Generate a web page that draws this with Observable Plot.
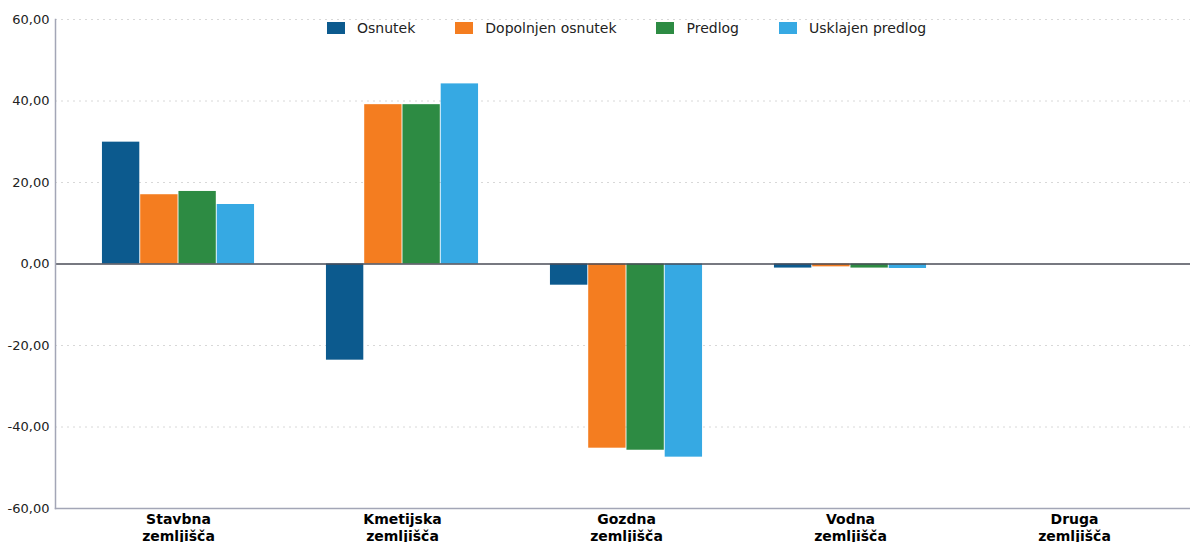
<!DOCTYPE html>
<html><head><meta charset="utf-8">
<script src="https://cdn.jsdelivr.net/npm/d3@7"></script>
<script src="https://cdn.jsdelivr.net/npm/@observablehq/plot@0.6"></script>
<style>
body{margin:0;background:#fff;font-family:"DejaVu Sans",sans-serif;}
#wrap{position:relative;width:1190px;height:542px;overflow:hidden;}
#legend{position:absolute;top:20px;left:327px;display:flex;align-items:center;font-size:14px;color:#222;white-space:nowrap;}
.item{display:flex;align-items:center;margin-right:40px;}
.sw{width:18px;height:12px;margin-right:12px;}
</style></head><body><div id="wrap"><div id="legend"></div></div>
<script>
const categories = ["Stavbna zemljišča", "Kmetijska zemljišča", "Gozdna zemljišča", "Vodna zemljišča", "Druga zemljišča"];
const series = ["Osnutek", "Dopolnjen osnutek", "Predlog", "Usklajen predlog"];
const osnutek = [29.9, -23.6, -5.2, -1.0, 0];
const dopolnjenOsnutek = [17.0, 39.1, -45.2, -0.7, 0];
const predlog = [17.8, 39.1, -45.7, -1.0, 0];
const usklajenPredlog = [14.6, 44.2, -47.4, -1.1, 0];
const yTicks = [-60, -40, -20, 0, 20, 40, 60];
const colors = ["#0c5a8e", "#f47d20", "#2d8b43", "#36a9e3"];

const valuesBySeries = [osnutek, dopolnjenOsnutek, predlog, usklajenPredlog];
const fmt = d => d.toFixed(2).replace(".", ",");

// layout of grouped bars inside each category band
const bandStart = 64, bandEnd = 1188.5;
const bandWidth = (bandEnd - bandStart) / categories.length;
const groupPad = 0.94; // outer padding, in bar widths
const slot = bandWidth / (series.length + 2 * groupPad);

const barMarks = series.map((s, j) => Plot.barY(categories.map((c, i) => ({category: c, value: valuesBySeries[j][i]})), {
  x: "category", y: "value", fill: colors[j],
  insetLeft: slot * (groupPad + j),
  insetRight: bandWidth - slot * (groupPad + j + 1)
}));

const chart = Plot.plot({
  width: 1190, height: 542,
  marginTop: 19, marginBottom: 34, marginLeft: 55, marginRight: 0,
  style: {fontFamily: "DejaVu Sans", background: "#fff"},
  x: {domain: categories, range: [bandStart, bandEnd], padding: 0, axis: null},
  y: {domain: [-60, 60], axis: null},
  marks: [
    Plot.ruleY(yTicks.filter(d => d !== 0 && d !== -60), {stroke: "#d8d8d8", strokeDasharray: "2,4", strokeWidth: 1}),
    ...barMarks,
    Plot.ruleY([0], {stroke: "#4a4d57", strokeWidth: 1.5}),
    Plot.frame({anchor: "left", stroke: "#a3a6b6", strokeWidth: 1.5}),
    Plot.frame({anchor: "bottom", stroke: "#a3a6b6", strokeWidth: 1.5}),
    Plot.axisY(yTicks, {anchor: "left", tickFormat: fmt, tickSize: 0, tickPadding: 6, fontSize: 13, fill: "#222", label: null}),
    Plot.axisX({anchor: "bottom", tickFormat: d => d.replace(" ", "\n"), tickSize: 0, tickPadding: 4, fontSize: 14, fontWeight: "bold", lineHeight: 1.2, fill: "#000", label: null})
  ]
});
document.getElementById("wrap").prepend(chart);

const legend = document.getElementById("legend");
series.forEach((s, j) => {
  const it = document.createElement("div");
  it.className = "item";
  const sw = document.createElement("span");
  sw.className = "sw"; sw.style.background = colors[j];
  const t = document.createElement("span");
  t.textContent = s;
  it.append(sw, t);
  legend.append(it);
});
</script>
</body></html>
